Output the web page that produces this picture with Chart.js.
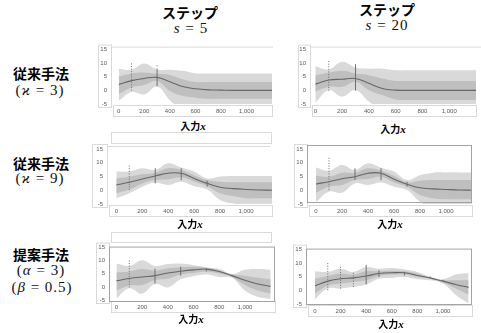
<!DOCTYPE html>
<html>
<head>
<meta charset="utf-8">
<script src="https://cdn.jsdelivr.net/npm/chart.js@4.4.0/dist/chart.umd.min.js"></script>
<style>
body { margin: 0; background: #fff; width: 481px; height: 333px; overflow: hidden; position: relative; font-family: "Noto Sans CJK JP", sans-serif; color: #000; }
.t { position: absolute; white-space: nowrap; transform: translateX(-50%); line-height: 1; }
.jp { font-weight: bold; font-size: 14px; }
.m { font-family: "Liberation Serif", "DejaVu Serif", serif; font-weight: 400; font-size: 15px; letter-spacing: 1px; color: #111; }
.m i { font-style: italic; font-weight: 400; }
.xl { font-weight: bold; font-size: 10px; }
.xl i { font-family: "Liberation Serif", serif; font-size: 11px; }
canvas { position: absolute; }
.box { position: absolute; border: 1px solid #d9d9d9; }
</style>
</head>
<body>

<div class="t jp" style="left:190px;top:5px">ステップ</div>
<div class="t m" style="left:191px;top:21px"><i>s</i> = 5</div>
<div class="t jp" style="left:387px;top:2px">ステップ</div>
<div class="t m" style="left:387px;top:18px"><i>s</i> = 20</div>

<div class="t jp" style="left:41px;top:66px">従来手法</div>
<div class="t m" style="left:40px;top:83px">(<i>ϰ</i> = 3)</div>
<div class="t jp" style="left:41px;top:156px">従来手法</div>
<div class="t m" style="left:40px;top:171px">(<i>ϰ</i> = 9)</div>
<div class="t jp" style="left:41px;top:247px">提案手法</div>
<div class="t m" style="left:41px;top:263px">(<i>α</i> = 3)</div>
<div class="t m" style="left:42px;top:280px">(<i>β</i> = 0.5)</div>

<div class="box" style="left:111px;top:132px;width:159px;height:10px"></div>
<div class="box" style="left:111px;top:232px;width:159px;height:9px"></div>

<canvas id="cA"></canvas>
<canvas id="cB"></canvas>
<canvas id="cC"></canvas>
<canvas id="cD"></canvas>
<canvas id="cE"></canvas>
<canvas id="cF"></canvas>

<div class="t xl" style="left:193px;top:121px">入力<i>x</i></div>
<div class="t xl" style="left:393px;top:124px">入力<i>x</i></div>
<div class="t xl" style="left:190px;top:219px">入力<i>x</i></div>
<div class="t xl" style="left:390px;top:219px">入力<i>x</i></div>
<div class="t xl" style="left:191px;top:314px">入力<i>x</i></div>
<div class="t xl" style="left:391px;top:319px">入力<i>x</i></div>

<script>
'use strict';

var xGrid = [0, 100, 200, 300, 400, 500, 600, 700, 800, 900, 1000, 1100, 1200];
var xTicks = [0, 200, 400, 600, 800, 1000];
var yTicks = [-5, 0, 5, 10, 15];

// step s=5, conventional (kappa=3)
var meanA  = [2.2, 3.6, 4.4, 4.8, 3.2, 1.4, 0.6, 0.2, 0.1, 0, 0, 0, 0];
var inHiA  = [5.1, 6.2, 6.6, 6.1, 5.7, 4.1, 3.1, 3.1, 3.1, 3.1, 3.1, 3.1, 3.1];
var inLoA  = [-1.3, 1.1, 2.0, 3.5, -0.2, -2.0, -2.7, -3.1, -3.1, -3.1, -3.1, -3.1, -3.1];
var outHiA = [8.0, 7.6, 9.9, 7.7, 7.6, 7.2, 6.3, 6.2, 6.2, 6.2, 6.2, 6.2, 6.2];
var outLoA = [-3.8, -0.6, -1.5, 1.4, -3.6, -7.0, -6.4, -6.2, -6.2, -6.2, -6.2, -6.2, -6.2];
var sampX_A  = [100, 300, 300];
var sampLo_A = [0, 1.5, 8.9];
var sampHi_A = [10, 8, 9.3];
var sampKind_A = ['sparse', 'dense', 'sparse'];

// step s=20, conventional (kappa=3)
var meanB  = [2.3, 3.8, 4.1, 4.4, 2.6, 0.7, 0.1, 0, 0, 0, 0, 0, 0];
var inHiB  = [5.6, 6.5, 7.2, 6.2, 5.6, 4.4, 3.5, 3.5, 3.5, 3.5, 3.5, 3.5, 3.5];
var inLoB  = [-0.5, 1.3, 1.3, 3.2, 0.1, -1.7, -3.3, -3.5, -3.5, -3.5, -3.5, -3.5, -3.5];
var outHiB = [8.9, 7.7, 10.5, 8.4, 8.0, 8.0, 7.4, 7.4, 7.4, 7.4, 7.4, 7.4, 7.4];
var outLoB = [-4.5, 0.1, -2.3, 0.1, -4.1, -7.4, -7.4, -7.4, -7.4, -7.4, -7.4, -7.4, -7.4];
var sampX_B  = [100, 300];
var sampLo_B = [-0.1, -0.1];
var sampHi_B = [10.9, 9.6];
var sampKind_B = ['sparse', 'dense'];

// step s=5, conventional (kappa=9)
var meanC  = [1.9, 2.9, 4.1, 5.2, 6.2, 6.2, 4.3, 2.5, 1.1, 0.6, 0.3, 0.1, 0];
var inHiC  = [4.3, 4.9, 5.8, 6.4, 8.0, 7.4, 5.5, 3.7, 3.1, 2.9, 2.9, 2.9, 2.9];
var inLoC  = [-1.1, 0.3, 2.5, 3.7, 4.0, 4.7, 3.1, 1.5, -1.1, -2.1, -2.9, -2.9, -2.9];
var outHiC = [6.8, 6.8, 8.0, 7.4, 9.8, 8.3, 6.8, 4.3, 5.0, 5.2, 5.2, 5.2, 5.2];
var outLoC = [-3.0, -1.1, 1.3, 2.8, 1.9, 3.1, 1.5, 0.3, -3.5, -4.8, -5.2, -5.2, -5.2];
var sampX_C  = [100, 300, 500, 700];
var sampLo_C = [0.1, 2.5, 3.7, 1.3];
var sampHi_C = [9.2, 8.0, 8.0, 3.5];
var sampKind_C = ['sparse', 'dense', 'dense', 'dense'];

// step s=20, conventional (kappa=9)
var meanD  = [2.3, 3.1, 4.2, 4.9, 6.2, 6.2, 4.0, 2.2, 0.9, 0.5, 0.3, 0.1, 0];
var inHiD  = [5.3, 4.9, 6.4, 6.4, 8.0, 7.1, 5.3, 2.9, 3.5, 3.7, 3.7, 3.7, 3.7];
var inLoD  = [-0.9, 1.3, 1.9, 3.7, 4.1, 4.9, 2.8, 1.3, -1.7, -2.9, -3.3, -3.3, -3.3];
var outHiD = [8.3, 7.1, 9.2, 7.4, 9.8, 8.2, 6.8, 3.7, 5.5, 6.4, 6.5, 6.5, 6.5];
var outLoD = [-4.2, -0.5, -0.9, 2.5, 1.9, 2.8, 1.3, 0.1, -4.2, -6.5, -6.5, -6.5, -6.5];
var sampX_D  = [100, 300, 500, 700];
var sampLo_D = [0.1, 3.7, 3.7, 1.3];
var sampHi_D = [12.0, 8.0, 8.0, 3.1];
var sampKind_D = ['sparse', 'dense', 'dense', 'dense'];

// step s=5, proposed (alpha=3, beta=0.5)
var meanE  = [2.3, 3.2, 3.8, 4.3, 5.3, 6.0, 6.5, 6.8, 5.9, 4.3, 2.5, 1.1, 0.2];
var inHiE  = [5.5, 5.9, 6.8, 6.2, 7.1, 7.5, 7.7, 7.3, 6.4, 4.7, 4.3, 3.5, 2.9];
var inLoE  = [-1.4, 0.5, 0.7, 2.6, 3.1, 4.7, 5.3, 5.9, 5.1, 3.8, 0.7, -1.4, -2.6];
var outHiE = [8.9, 8.0, 10.2, 8.0, 8.7, 8.9, 8.3, 7.5, 6.8, 4.9, 6.5, 6.8, 6.5];
var outLoE = [-4.4, -0.5, -2.6, 1.1, -0.2, 2.9, 4.1, 4.7, 3.8, 3.5, -1.4, -3.8, -4.6];
var sampX_E  = [100, 300, 500, 700, 900];
var sampLo_E = [-0.2, 1.3, 4.3, 5.9, 4.1];
var sampHi_E = [10.2, 6.9, 7.7, 6.9, 4.6];
var sampKind_E = ['sparse', 'dense', 'dense', 'dense', 'dense'];

// step s=20, proposed (alpha=3, beta=0.5)
var meanF  = [1.7, 3.4, 4.3, 4.6, 5.3, 6.2, 6.5, 6.5, 5.5, 4.6, 3.4, 2.2, 1.1];
var inHiF  = [4.3, 5.3, 6.2, 5.8, 7.0, 7.0, 7.2, 7.0, 6.2, 4.7, 3.7, 3.7, 3.7];
var inLoF  = [-1.1, 1.7, 2.5, 3.1, 3.7, 5.3, 5.8, 5.9, 4.9, 4.3, 2.9, 0.7, -1.5];
var outHiF = [7.0, 6.8, 8.0, 6.8, 8.6, 8.0, 8.2, 7.7, 6.8, 4.9, 4.1, 5.8, 6.4];
var outLoF = [-3.2, 0.7, 0.7, 1.3, 2.2, 4.3, 4.6, 4.9, 4.1, 3.7, 2.5, -1.7, -4.8];
var sampX_F  = [100, 200, 300, 400, 500, 700, 900, 1000];
var sampLo_F = [0.1, 0.7, 1.3, 2.2, 4.9, 5.5, 4.6, 3.4];
var sampHi_F = [10.4, 9.4, 6.8, 9.4, 7.4, 6.8, 5.1, 3.9];
var sampKind_F = ['sparse', 'sparse', 'sparse', 'dense', 'dense', 'dense', 'dense', 'dense'];

// page layout of each panel: canvas box (cl,ct,cw,ch), plot box (pl,pt,pr,pb), frame
var layouts = {
    cA: { cl: 96,  ct: 42,  cw: 180, ch: 76, pl: 111, pt: 49,  pr: 272, pb: 104, xmin: -61, xmax: 1200, full: false, dTop: 3, dBot: 0, lineExt: 1 },
    cB: { cl: 296, ct: 42,  cw: 185, ch: 76, pl: 310, pt: 49,  pr: 476, pb: 104, xmin: -40, xmax: 1200, full: false, dTop: 3, dBot: 0, lineExt: 6 },
    cC: { cl: 90,  ct: 141, cw: 186, ch: 77, pl: 107, pt: 149, pr: 272, pb: 204, xmin: -72, xmax: 1200, full: false, dTop: 3, dBot: 0, lineExt: -2 },
    cD: { cl: 292, ct: 140, cw: 184, ch: 78, pl: 307, pt: 149, pr: 472, pb: 204, xmin: -69, xmax: 1200, full: true,  dTop: 4, dBot: -1, lineExt: 0 },
    cE: { cl: 94,  ct: 240, cw: 183, ch: 74, pl: 109, pt: 246, pr: 275, pb: 300, xmin: -58, xmax: 1234, full: true,  dTop: 1, dBot: 2, lineExt: 0 },
    cF: { cl: 291, ct: 242, cw: 184, ch: 78, pl: 306, pt: 249, pr: 472, pb: 304, xmin: -70, xmax: 1227, full: true,  dTop: 1, dBot: 1, lineExt: 0 }
};

var framePlugin = {
    id: 'frame',
    afterDraw: function (chart) {
        var f = chart.options.plugins.frame;
        var a = chart.chartArea;
        var ctx = chart.ctx;
        ctx.save();
        ctx.lineWidth = 1;
        ctx.strokeStyle = '#d9d9d9';
        // box round the y tick labels
        ctx.strokeRect(2.5, a.top - 4.5, a.left - 2, a.bottom - a.top + 8);
        // box round the x tick labels
        ctx.strokeRect(a.left + 2.5, a.bottom + 1.5, a.right - a.left - 2, 11);
        if (f.full) {
            ctx.strokeStyle = '#a3a3a3';
            ctx.strokeRect(a.left + 0.5, a.top - f.dTop + 0.5, a.right - a.left - 1, a.bottom - a.top + f.dTop + f.dBot - 1);
        } else {
            ctx.beginPath();
            ctx.moveTo(a.left + 0.5, a.bottom + 1);
            ctx.lineTo(a.left + 0.5, a.top - f.dTop + 0.5);
            ctx.lineTo(a.right + f.lineExt, a.top - f.dTop + 0.5);
            ctx.stroke();
        }
        ctx.restore();
    }
};

function pts(arr) {
    return xGrid.map(function (x, i) { return { x: x, y: arr[i] }; });
}

function band(hi, lo, colour, order) {
    return [
        { data: pts(hi), fill: '+1', backgroundColor: colour, borderColor: 'rgba(0,0,0,0)', borderWidth: 0, pointRadius: 0, tension: 0.4, order: order },
        { data: pts(lo), fill: false, borderColor: 'rgba(0,0,0,0)', borderWidth: 0, pointRadius: 0, tension: 0.4, order: order }
    ];
}

function makePanel(id, mean, inHi, inLo, outHi, outLo, sx, sLo, sHi, sKind) {
    var L = layouts[id];
    var cv = document.getElementById(id);
    cv.width = L.cw;
    cv.height = L.ch;
    cv.style.left = L.cl + 'px';
    cv.style.top = L.ct + 'px';

    var xAxisH = 13;
    var datasets = band(outHi, outLo, '#d9d9d9', 3).concat(band(inHi, inLo, '#bfbfbf', 2));
    datasets.push({ data: pts(mean), fill: false, borderColor: '#666666', borderWidth: 1.1, pointRadius: 0, tension: 0.4, order: 1 });
    sx.forEach(function (x, i) {
        datasets.push({
            data: [{ x: x, y: sLo[i] }, { x: x, y: sHi[i] }],
            fill: false,
            borderColor: '#6e6e6e',
            borderWidth: 1,
            borderDash: sKind[i] === 'sparse' ? [1, 1.6] : [],
            pointRadius: 0,
            tension: 0,
            order: 0
        });
    });

    var tickFont = { family: 'Liberation Sans', size: 6 };

    new Chart(cv.getContext('2d'), {
        type: 'line',
        data: { datasets: datasets },
        options: {
            responsive: false,
            animation: false,
            devicePixelRatio: 1,
            layout: {
                padding: {
                    left: 0,
                    top: L.pt - L.ct,
                    right: L.cl + L.cw - L.pr,
                    bottom: L.ct + L.ch - L.pb - xAxisH
                }
            },
            plugins: {
                legend: { display: false },
                tooltip: { enabled: false },
                frame: { full: L.full, dTop: L.dTop, dBot: L.dBot, lineExt: L.lineExt }
            },
            scales: {
                x: {
                    type: 'linear',
                    min: L.xmin,
                    max: L.xmax,
                    grid: { display: false, drawTicks: false },
                    border: { display: false },
                    afterBuildTicks: function (s) { s.ticks = xTicks.map(function (v) { return { value: v }; }); },
                    afterFit: function (s) { s.height = xAxisH; },
                    ticks: { font: tickFont, color: '#595959', padding: 4, maxRotation: 0, autoSkip: false }
                },
                y: {
                    min: -5,
                    max: 15,
                    grid: { display: false, drawTicks: false },
                    border: { display: false },
                    afterBuildTicks: function (s) { s.ticks = yTicks.map(function (v) { return { value: v }; }); },
                    afterFit: function (s) { s.width = L.pl - L.cl; },
                    ticks: { font: tickFont, color: '#595959', padding: 4 }
                }
            }
        },
        plugins: [framePlugin]
    });
}

makePanel('cA', meanA, inHiA, inLoA, outHiA, outLoA, sampX_A, sampLo_A, sampHi_A, sampKind_A);
makePanel('cB', meanB, inHiB, inLoB, outHiB, outLoB, sampX_B, sampLo_B, sampHi_B, sampKind_B);
makePanel('cC', meanC, inHiC, inLoC, outHiC, outLoC, sampX_C, sampLo_C, sampHi_C, sampKind_C);
makePanel('cD', meanD, inHiD, inLoD, outHiD, outLoD, sampX_D, sampLo_D, sampHi_D, sampKind_D);
makePanel('cE', meanE, inHiE, inLoE, outHiE, outLoE, sampX_E, sampLo_E, sampHi_E, sampKind_E);
makePanel('cF', meanF, inHiF, inLoF, outHiF, outLoF, sampX_F, sampLo_F, sampHi_F, sampKind_F);
</script>
</body>
</html>
